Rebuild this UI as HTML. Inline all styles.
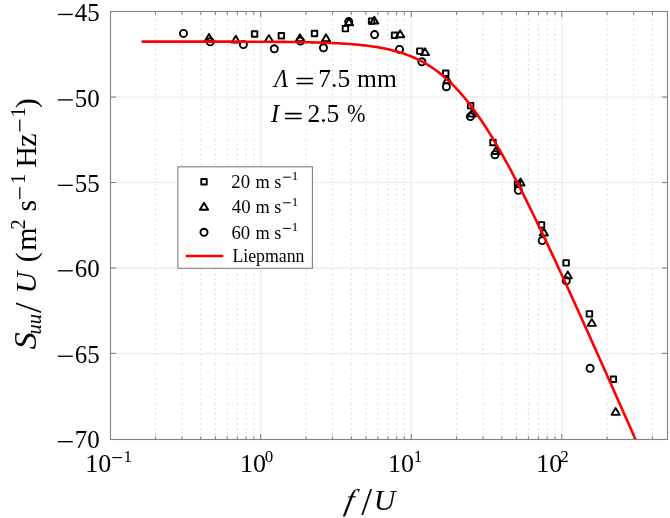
<!DOCTYPE html>
<html><head><meta charset="utf-8"><style>html,body{margin:0;padding:0;background:#fff;}svg{display:block;}</style></head><body>
<svg width="670" height="518" viewBox="0 0 670 518" style="will-change:transform">
<rect x="0" y="0" width="670" height="518" fill="#fff"/>
<g stroke="#d6d6d6" stroke-width="1.1" stroke-dasharray="1.4 3.59" stroke-dashoffset="0.2" fill="none">
<line x1="155.47" y1="439.5" x2="155.47" y2="11.5"/>
<line x1="181.98" y1="439.5" x2="181.98" y2="11.5"/>
<line x1="200.79" y1="439.5" x2="200.79" y2="11.5"/>
<line x1="215.38" y1="439.5" x2="215.38" y2="11.5"/>
<line x1="227.30" y1="439.5" x2="227.30" y2="11.5"/>
<line x1="237.38" y1="439.5" x2="237.38" y2="11.5"/>
<line x1="246.11" y1="439.5" x2="246.11" y2="11.5"/>
<line x1="253.81" y1="439.5" x2="253.81" y2="11.5"/>
<line x1="306.02" y1="439.5" x2="306.02" y2="11.5"/>
<line x1="332.53" y1="439.5" x2="332.53" y2="11.5"/>
<line x1="351.34" y1="439.5" x2="351.34" y2="11.5"/>
<line x1="365.93" y1="439.5" x2="365.93" y2="11.5"/>
<line x1="377.85" y1="439.5" x2="377.85" y2="11.5"/>
<line x1="387.93" y1="439.5" x2="387.93" y2="11.5"/>
<line x1="396.66" y1="439.5" x2="396.66" y2="11.5"/>
<line x1="404.36" y1="439.5" x2="404.36" y2="11.5"/>
<line x1="456.57" y1="439.5" x2="456.57" y2="11.5"/>
<line x1="483.08" y1="439.5" x2="483.08" y2="11.5"/>
<line x1="501.89" y1="439.5" x2="501.89" y2="11.5"/>
<line x1="516.48" y1="439.5" x2="516.48" y2="11.5"/>
<line x1="528.40" y1="439.5" x2="528.40" y2="11.5"/>
<line x1="538.48" y1="439.5" x2="538.48" y2="11.5"/>
<line x1="547.21" y1="439.5" x2="547.21" y2="11.5"/>
<line x1="554.91" y1="439.5" x2="554.91" y2="11.5"/>
<line x1="607.12" y1="439.5" x2="607.12" y2="11.5"/>
<line x1="633.63" y1="439.5" x2="633.63" y2="11.5"/>
<line x1="652.44" y1="439.5" x2="652.44" y2="11.5"/>
</g>
<g stroke="#ececec" stroke-width="1.2" fill="none">
<line x1="260.70" y1="439.5" x2="260.70" y2="11.5"/>
<line x1="411.25" y1="439.5" x2="411.25" y2="11.5"/>
<line x1="561.80" y1="439.5" x2="561.80" y2="11.5"/>
<line x1="110.5" y1="97.05" x2="667.5" y2="97.05"/>
<line x1="110.5" y1="182.50" x2="667.5" y2="182.50"/>
<line x1="110.5" y1="267.95" x2="667.5" y2="267.95"/>
<line x1="110.5" y1="353.40" x2="667.5" y2="353.40"/>
</g>
<clipPath id="c"><rect x="110.5" y="11.5" width="557.0" height="428.0"/></clipPath>
<g fill="none" stroke="#000" stroke-width="1.9" stroke-linejoin="round">
<rect x="251.85" y="31.25" width="5.5" height="5.5"/>
<rect x="278.61" y="32.95" width="5.5" height="5.5"/>
<rect x="311.75" y="30.75" width="5.5" height="5.5"/>
<rect x="342.68" y="25.85" width="5.5" height="5.5"/>
<rect x="368.85" y="18.35" width="5.5" height="5.5"/>
<rect x="391.85" y="32.55" width="5.5" height="5.5"/>
<rect x="417.08" y="48.35" width="5.5" height="5.5"/>
<rect x="442.98" y="70.55" width="5.5" height="5.5"/>
<rect x="467.85" y="102.85" width="5.5" height="5.5"/>
<rect x="490.25" y="139.75" width="5.5" height="5.5"/>
<rect x="514.75" y="181.45" width="5.5" height="5.5"/>
<rect x="538.75" y="222.15" width="5.5" height="5.5"/>
<rect x="563.35" y="260.15" width="5.5" height="5.5"/>
<rect x="586.68" y="311.15" width="5.5" height="5.5"/>
<rect x="610.61" y="376.55" width="5.5" height="5.5"/>
<path d="M209.01,34.05 L213.11,40.95 L204.91,40.95 Z"/>
<path d="M235.78,35.75 L239.88,42.65 L231.68,42.65 Z"/>
<path d="M268.91,34.95 L273.01,41.85 L264.81,41.85 Z"/>
<path d="M299.85,34.35 L303.95,41.25 L295.75,41.25 Z"/>
<path d="M326.01,34.35 L330.11,41.25 L321.91,41.25 Z"/>
<path d="M349.01,18.45 L353.11,25.35 L344.91,25.35 Z"/>
<path d="M374.25,16.65 L378.35,23.55 L370.15,23.55 Z"/>
<path d="M400.15,30.35 L404.25,37.25 L396.05,37.25 Z"/>
<path d="M425.01,48.25 L429.11,55.15 L420.91,55.15 Z"/>
<path d="M447.41,76.35 L451.51,83.25 L443.31,83.25 Z"/>
<path d="M471.91,109.55 L476.01,116.45 L467.81,116.45 Z"/>
<path d="M495.91,147.05 L500.01,153.95 L491.81,153.95 Z"/>
<path d="M520.51,178.55 L524.61,185.45 L516.41,185.45 Z"/>
<path d="M543.85,228.55 L547.95,235.45 L539.75,235.45 Z"/>
<path d="M567.78,271.45 L571.88,278.35 L563.68,278.35 Z"/>
<path d="M591.79,318.95 L595.89,325.85 L587.69,325.85 Z"/>
<path d="M615.64,407.95 L619.74,414.85 L611.54,414.85 Z"/>
<circle cx="183.47" cy="33.40" r="3.55"/>
<circle cx="210.24" cy="41.80" r="3.55"/>
<circle cx="243.37" cy="44.60" r="3.55"/>
<circle cx="274.31" cy="48.80" r="3.55"/>
<circle cx="300.47" cy="41.00" r="3.55"/>
<circle cx="323.47" cy="47.80" r="3.55"/>
<circle cx="348.71" cy="21.60" r="3.55"/>
<circle cx="374.61" cy="34.60" r="3.55"/>
<circle cx="399.47" cy="49.40" r="3.55"/>
<circle cx="421.87" cy="61.80" r="3.55"/>
<circle cx="446.37" cy="86.70" r="3.55"/>
<circle cx="470.37" cy="116.60" r="3.55"/>
<circle cx="494.97" cy="154.70" r="3.55"/>
<circle cx="518.31" cy="190.30" r="3.55"/>
<circle cx="542.24" cy="240.60" r="3.55"/>
<circle cx="566.25" cy="280.70" r="3.55"/>
<circle cx="590.10" cy="368.30" r="3.55"/>
</g>
<path d="M141.60,41.58 L143.35,41.58 L145.10,41.58 L146.85,41.58 L148.61,41.58 L150.36,41.58 L152.11,41.58 L153.86,41.58 L155.61,41.58 L157.36,41.58 L159.11,41.58 L160.87,41.58 L162.62,41.58 L164.37,41.58 L166.12,41.58 L167.87,41.59 L169.62,41.59 L171.37,41.59 L173.13,41.59 L174.88,41.59 L176.63,41.59 L178.38,41.59 L180.13,41.59 L181.88,41.59 L183.63,41.59 L185.39,41.59 L187.14,41.59 L188.89,41.59 L190.64,41.60 L192.39,41.60 L194.14,41.60 L195.89,41.60 L197.65,41.60 L199.40,41.60 L201.15,41.60 L202.90,41.60 L204.65,41.61 L206.40,41.61 L208.15,41.61 L209.91,41.61 L211.66,41.61 L213.41,41.61 L215.16,41.62 L216.91,41.62 L218.66,41.62 L220.41,41.62 L222.17,41.63 L223.92,41.63 L225.67,41.63 L227.42,41.64 L229.17,41.64 L230.92,41.64 L232.67,41.65 L234.43,41.65 L236.18,41.65 L237.93,41.66 L239.68,41.66 L241.43,41.67 L243.18,41.67 L244.93,41.68 L246.69,41.68 L248.44,41.69 L250.19,41.70 L251.94,41.70 L253.69,41.71 L255.44,41.72 L257.19,41.72 L258.95,41.73 L260.70,41.74 L262.45,41.75 L264.20,41.76 L265.95,41.77 L267.70,41.78 L269.45,41.79 L271.21,41.80 L272.96,41.82 L274.71,41.83 L276.46,41.84 L278.21,41.86 L279.96,41.87 L281.71,41.89 L283.47,41.91 L285.22,41.92 L286.97,41.94 L288.72,41.96 L290.47,41.98 L292.22,42.01 L293.97,42.03 L295.73,42.06 L297.48,42.08 L299.23,42.11 L300.98,42.14 L302.73,42.17 L304.48,42.20 L306.23,42.24 L307.99,42.27 L309.74,42.31 L311.49,42.35 L313.24,42.39 L314.99,42.44 L316.74,42.49 L318.49,42.54 L320.25,42.59 L322.00,42.64 L323.75,42.70 L325.50,42.76 L327.25,42.83 L329.00,42.90 L330.75,42.97 L332.51,43.04 L334.26,43.12 L336.01,43.21 L337.76,43.30 L339.51,43.39 L341.26,43.49 L343.01,43.59 L344.77,43.70 L346.52,43.82 L348.27,43.94 L350.02,44.07 L351.77,44.20 L353.52,44.34 L355.27,44.49 L357.03,44.65 L358.78,44.81 L360.53,44.99 L362.28,45.17 L364.03,45.37 L365.78,45.57 L367.53,45.78 L369.29,46.01 L371.04,46.24 L372.79,46.49 L374.54,46.75 L376.29,47.03 L378.04,47.32 L379.79,47.62 L381.55,47.94 L383.30,48.27 L385.05,48.63 L386.80,48.99 L388.55,49.38 L390.30,49.79 L392.05,50.22 L393.81,50.66 L395.56,51.13 L397.31,51.62 L399.06,52.14 L400.81,52.68 L402.56,53.24 L404.31,53.84 L406.07,54.46 L407.82,55.10 L409.57,55.78 L411.32,56.49 L413.07,57.23 L414.82,58.00 L416.57,58.81 L418.33,59.65 L420.08,60.53 L421.83,61.44 L423.58,62.40 L425.33,63.39 L427.08,64.42 L428.84,65.50 L430.59,66.61 L432.34,67.77 L434.09,68.98 L435.84,70.23 L437.59,71.53 L439.34,72.87 L441.10,74.26 L442.85,75.70 L444.60,77.19 L446.35,78.73 L448.10,80.33 L449.85,81.97 L451.60,83.66 L453.36,85.41 L455.11,87.21 L456.86,89.06 L458.61,90.97 L460.36,92.93 L462.11,94.94 L463.86,97.01 L465.62,99.12 L467.37,101.30 L469.12,103.52 L470.87,105.80 L472.62,108.13 L474.37,110.50 L476.12,112.94 L477.88,115.42 L479.63,117.95 L481.38,120.53 L483.13,123.16 L484.88,125.83 L486.63,128.55 L488.38,131.32 L490.14,134.13 L491.89,136.99 L493.64,139.88 L495.39,142.82 L497.14,145.80 L498.89,148.82 L500.64,151.88 L502.40,154.98 L504.15,158.11 L505.90,161.27 L507.65,164.47 L509.40,167.71 L511.15,170.97 L512.90,174.27 L514.66,177.60 L516.41,180.95 L518.16,184.33 L519.91,187.74 L521.66,191.17 L523.41,194.63 L525.16,198.11 L526.92,201.62 L528.67,205.15 L530.42,208.69 L532.17,212.26 L533.92,215.85 L535.67,219.45 L537.42,223.08 L539.18,226.72 L540.93,230.37 L542.68,234.05 L544.43,237.73 L546.18,241.43 L547.93,245.15 L549.68,248.87 L551.44,252.61 L553.19,256.36 L554.94,260.12 L556.69,263.90 L558.44,267.68 L560.19,271.47 L561.94,275.27 L563.70,279.08 L565.45,282.90 L567.20,286.73 L568.95,290.56 L570.70,294.40 L572.45,298.25 L574.20,302.10 L575.96,305.96 L577.71,309.83 L579.46,313.70 L581.21,317.58 L582.96,321.46 L584.71,325.35 L586.46,329.24 L588.22,333.14 L589.97,337.04 L591.72,340.94 L593.47,344.85 L595.22,348.76 L596.97,352.67 L598.72,356.59 L600.48,360.51 L602.23,364.44 L603.98,368.36 L605.73,372.29 L607.48,376.22 L609.23,380.16 L610.98,384.09 L612.74,388.03 L614.49,391.97 L616.24,395.91 L617.99,399.86 L619.74,403.80 L621.49,407.75 L623.24,411.70 L625.00,415.65 L626.75,419.60 L628.50,423.55 L630.25,427.50 L632.00,431.46 L633.75,435.42 L635.50,439.37 L637.26,443.33 L639.01,447.29 L640.76,451.25 L642.51,455.21 L644.26,459.17 L646.01,463.14 L647.76,467.10 L649.52,471.06 L651.27,475.03 L653.02,478.99 L654.77,482.96 L656.52,486.92 L658.27,490.89 L660.02,494.86 L661.78,498.83 L663.53,502.79 L665.28,506.76 L667.03,510.73" fill="none" stroke="#ff0000" stroke-width="2.6" clip-path="url(#c)"/>
<g stroke="#828282" stroke-width="1.1" fill="none">
<rect x="110.5" y="11.5" width="557.0" height="428.0"/>
<line x1="260.70" y1="439.5" x2="260.70" y2="434.0"/>
<line x1="260.70" y1="11.5" x2="260.70" y2="17.0"/>
<line x1="411.25" y1="439.5" x2="411.25" y2="434.0"/>
<line x1="411.25" y1="11.5" x2="411.25" y2="17.0"/>
<line x1="561.80" y1="439.5" x2="561.80" y2="434.0"/>
<line x1="561.80" y1="11.5" x2="561.80" y2="17.0"/>
<line x1="155.47" y1="439.5" x2="155.47" y2="436.3"/>
<line x1="155.47" y1="11.5" x2="155.47" y2="14.7"/>
<line x1="181.98" y1="439.5" x2="181.98" y2="436.3"/>
<line x1="181.98" y1="11.5" x2="181.98" y2="14.7"/>
<line x1="200.79" y1="439.5" x2="200.79" y2="436.3"/>
<line x1="200.79" y1="11.5" x2="200.79" y2="14.7"/>
<line x1="215.38" y1="439.5" x2="215.38" y2="436.3"/>
<line x1="215.38" y1="11.5" x2="215.38" y2="14.7"/>
<line x1="227.30" y1="439.5" x2="227.30" y2="436.3"/>
<line x1="227.30" y1="11.5" x2="227.30" y2="14.7"/>
<line x1="237.38" y1="439.5" x2="237.38" y2="436.3"/>
<line x1="237.38" y1="11.5" x2="237.38" y2="14.7"/>
<line x1="246.11" y1="439.5" x2="246.11" y2="436.3"/>
<line x1="246.11" y1="11.5" x2="246.11" y2="14.7"/>
<line x1="253.81" y1="439.5" x2="253.81" y2="436.3"/>
<line x1="253.81" y1="11.5" x2="253.81" y2="14.7"/>
<line x1="306.02" y1="439.5" x2="306.02" y2="436.3"/>
<line x1="306.02" y1="11.5" x2="306.02" y2="14.7"/>
<line x1="332.53" y1="439.5" x2="332.53" y2="436.3"/>
<line x1="332.53" y1="11.5" x2="332.53" y2="14.7"/>
<line x1="351.34" y1="439.5" x2="351.34" y2="436.3"/>
<line x1="351.34" y1="11.5" x2="351.34" y2="14.7"/>
<line x1="365.93" y1="439.5" x2="365.93" y2="436.3"/>
<line x1="365.93" y1="11.5" x2="365.93" y2="14.7"/>
<line x1="377.85" y1="439.5" x2="377.85" y2="436.3"/>
<line x1="377.85" y1="11.5" x2="377.85" y2="14.7"/>
<line x1="387.93" y1="439.5" x2="387.93" y2="436.3"/>
<line x1="387.93" y1="11.5" x2="387.93" y2="14.7"/>
<line x1="396.66" y1="439.5" x2="396.66" y2="436.3"/>
<line x1="396.66" y1="11.5" x2="396.66" y2="14.7"/>
<line x1="404.36" y1="439.5" x2="404.36" y2="436.3"/>
<line x1="404.36" y1="11.5" x2="404.36" y2="14.7"/>
<line x1="456.57" y1="439.5" x2="456.57" y2="436.3"/>
<line x1="456.57" y1="11.5" x2="456.57" y2="14.7"/>
<line x1="483.08" y1="439.5" x2="483.08" y2="436.3"/>
<line x1="483.08" y1="11.5" x2="483.08" y2="14.7"/>
<line x1="501.89" y1="439.5" x2="501.89" y2="436.3"/>
<line x1="501.89" y1="11.5" x2="501.89" y2="14.7"/>
<line x1="516.48" y1="439.5" x2="516.48" y2="436.3"/>
<line x1="516.48" y1="11.5" x2="516.48" y2="14.7"/>
<line x1="528.40" y1="439.5" x2="528.40" y2="436.3"/>
<line x1="528.40" y1="11.5" x2="528.40" y2="14.7"/>
<line x1="538.48" y1="439.5" x2="538.48" y2="436.3"/>
<line x1="538.48" y1="11.5" x2="538.48" y2="14.7"/>
<line x1="547.21" y1="439.5" x2="547.21" y2="436.3"/>
<line x1="547.21" y1="11.5" x2="547.21" y2="14.7"/>
<line x1="554.91" y1="439.5" x2="554.91" y2="436.3"/>
<line x1="554.91" y1="11.5" x2="554.91" y2="14.7"/>
<line x1="607.12" y1="439.5" x2="607.12" y2="436.3"/>
<line x1="607.12" y1="11.5" x2="607.12" y2="14.7"/>
<line x1="633.63" y1="439.5" x2="633.63" y2="436.3"/>
<line x1="633.63" y1="11.5" x2="633.63" y2="14.7"/>
<line x1="652.44" y1="439.5" x2="652.44" y2="436.3"/>
<line x1="652.44" y1="11.5" x2="652.44" y2="14.7"/>
<line x1="110.5" y1="97.05" x2="116.0" y2="97.05"/>
<line x1="667.5" y1="97.05" x2="662.0" y2="97.05"/>
<line x1="110.5" y1="182.50" x2="116.0" y2="182.50"/>
<line x1="667.5" y1="182.50" x2="662.0" y2="182.50"/>
<line x1="110.5" y1="267.95" x2="116.0" y2="267.95"/>
<line x1="667.5" y1="267.95" x2="662.0" y2="267.95"/>
<line x1="110.5" y1="353.40" x2="116.0" y2="353.40"/>
<line x1="667.5" y1="353.40" x2="662.0" y2="353.40"/>
</g>
<g font-family="Liberation Serif" fill="#000">
<text font-size="26" text-anchor="end" transform="translate(99.6,21.05) scale(0.96,1)">45</text>
<line x1="57.90" y1="14.45" x2="72.80" y2="14.45" stroke="#000" stroke-width="1.35" stroke-linecap="butt"/>
<text font-size="26" text-anchor="end" transform="translate(99.6,106.50) scale(0.96,1)">50</text>
<line x1="57.90" y1="99.90" x2="72.80" y2="99.90" stroke="#000" stroke-width="1.35" stroke-linecap="butt"/>
<text font-size="26" text-anchor="end" transform="translate(99.6,191.95) scale(0.96,1)">55</text>
<line x1="57.90" y1="185.35" x2="72.80" y2="185.35" stroke="#000" stroke-width="1.35" stroke-linecap="butt"/>
<text font-size="26" text-anchor="end" transform="translate(99.6,277.40) scale(0.96,1)">60</text>
<line x1="57.90" y1="270.80" x2="72.80" y2="270.80" stroke="#000" stroke-width="1.35" stroke-linecap="butt"/>
<text font-size="26" text-anchor="end" transform="translate(99.6,362.85) scale(0.96,1)">65</text>
<line x1="57.90" y1="356.25" x2="72.80" y2="356.25" stroke="#000" stroke-width="1.35" stroke-linecap="butt"/>
<text font-size="26" text-anchor="end" transform="translate(99.6,448.30) scale(0.96,1)">70</text>
<line x1="57.90" y1="441.70" x2="72.80" y2="441.70" stroke="#000" stroke-width="1.35" stroke-linecap="butt"/>
<text x="85.21" y="471.70" font-size="26">10</text>
<line x1="112.30" y1="457.60" x2="122.00" y2="457.60" stroke="#000" stroke-width="1.1" stroke-linecap="butt"/>
<text x="123.61" y="462.30" font-size="17">1</text>
<text x="239.91" y="471.70" font-size="26">10</text>
<text x="264.65" y="462.30" font-size="17">0</text>
<text x="388.11" y="471.70" font-size="26">10</text>
<text x="413.81" y="462.30" font-size="17">1</text>
<text x="536.21" y="471.70" font-size="26">10</text>
<text x="560.15" y="462.30" font-size="17">2</text>
<text font-size="25.5" font-style="italic" transform="translate(274.18,86.8) scale(0.9,1)">Λ</text>
<line x1="297.10" y1="78.50" x2="312.40" y2="78.50" stroke="#000" stroke-width="1.55" stroke-linecap="round"/>
<line x1="297.10" y1="83.45" x2="312.40" y2="83.45" stroke="#000" stroke-width="1.55" stroke-linecap="round"/>
<text x="318.32" y="86.80" font-size="25.5">7.5</text>
<text x="357.06" y="86.80" font-size="25.5">mm</text>
<text x="270.70" y="121.60" font-size="25.5" font-style="italic">I</text>
<line x1="285.60" y1="113.60" x2="301.10" y2="113.60" stroke="#000" stroke-width="1.55" stroke-linecap="round"/>
<line x1="285.60" y1="118.55" x2="301.10" y2="118.55" stroke="#000" stroke-width="1.55" stroke-linecap="round"/>
<text x="307.48" y="121.60" font-size="25.5">2.5</text>
<text font-size="25.5" transform="translate(346.94,121.6) scale(0.87,1)">%</text>
</g>
<rect x="177.9" y="166.8" width="134.5" height="101.5" fill="#fff" stroke="#7f7f7f" stroke-width="1.1"/>
<g fill="none" stroke="#000" stroke-width="1.9" stroke-linejoin="round">
<rect x="201.25" y="179.05" width="5.5" height="5.5"/>
<path d="M204.00,202.85 L208.10,209.75 L199.90,209.75 Z"/>
<circle cx="204.00" cy="232.30" r="3.55"/>
</g>
<line x1="185.6" y1="256" x2="223.3" y2="256" stroke="#ff0000" stroke-width="2.6"/>
<g font-family="Liberation Serif" fill="#000">
<text x="231.37" y="187.80" font-size="18.8">20</text>
<text x="255.42" y="187.80" font-size="18.3">m</text>
<text x="274.25" y="187.80" font-size="18.3">s</text>
<line x1="283.00" y1="177.20" x2="290.80" y2="177.20" stroke="#000" stroke-width="1.0" stroke-linecap="butt"/>
<text x="291.76" y="180.20" font-size="13">1</text>
<text x="231.83" y="213.40" font-size="18.8">40</text>
<text x="255.42" y="213.40" font-size="18.3">m</text>
<text x="274.25" y="213.40" font-size="18.3">s</text>
<line x1="283.00" y1="202.80" x2="290.80" y2="202.80" stroke="#000" stroke-width="1.0" stroke-linecap="butt"/>
<text x="291.76" y="205.80" font-size="13">1</text>
<text x="231.39" y="239.00" font-size="18.8">60</text>
<text x="255.42" y="239.00" font-size="18.3">m</text>
<text x="274.25" y="239.00" font-size="18.3">s</text>
<line x1="283.00" y1="228.40" x2="290.80" y2="228.40" stroke="#000" stroke-width="1.0" stroke-linecap="butt"/>
<text x="291.76" y="231.40" font-size="13">1</text>
<text x="232.39" y="262.40" font-size="17.8">Liepmann</text>
</g>
<g font-family="Liberation Serif" fill="#000">
<text font-size="30" font-style="italic" transform="translate(343.8,509.8) skewX(-12)">f</text>
<text x="361.30" y="515.40" font-size="39">/</text>
<text x="373.85" y="509.90" font-size="30" font-style="italic">U</text>
</g>
<g font-family="Liberation Serif" fill="#000" transform="translate(35.8,0) rotate(-90)">
<text x="-334.62" y="4.90" font-size="20.5" font-style="italic">uu</text>
<text x="-313.00" y="5.50" font-size="38">/</text>
<text x="-293.45" y="0.00" font-size="30" font-style="italic">U</text>
<text x="-262.32" y="0.00" font-size="30">(</text>
<text x="-250.83" y="0.00" font-size="30">m</text>
<text x="-229.50" y="-10.60" font-size="20.5">2</text>
<text x="-211.53" y="0.00" font-size="30">s</text>
<text x="-184.00" y="-10.60" font-size="20.5">1</text>
<text x="-167.66" y="0.00" font-size="30">H</text>
<text x="-146.81" y="0.00" font-size="30">z</text>
<text x="-117.30" y="-10.60" font-size="20.5">1</text>
<text x="-108.17" y="0.00" font-size="30">)</text>
<text font-size="31" font-style="italic" transform="translate(-349.61,0) scale(1.12,1)">S</text>
<line x1="-198.90" y1="-16.00" x2="-187.20" y2="-16.00" stroke="#000" stroke-width="1.25"/>
<line x1="-131.40" y1="-16.00" x2="-119.60" y2="-16.00" stroke="#000" stroke-width="1.25"/>
</g>
</svg>
</body></html>
